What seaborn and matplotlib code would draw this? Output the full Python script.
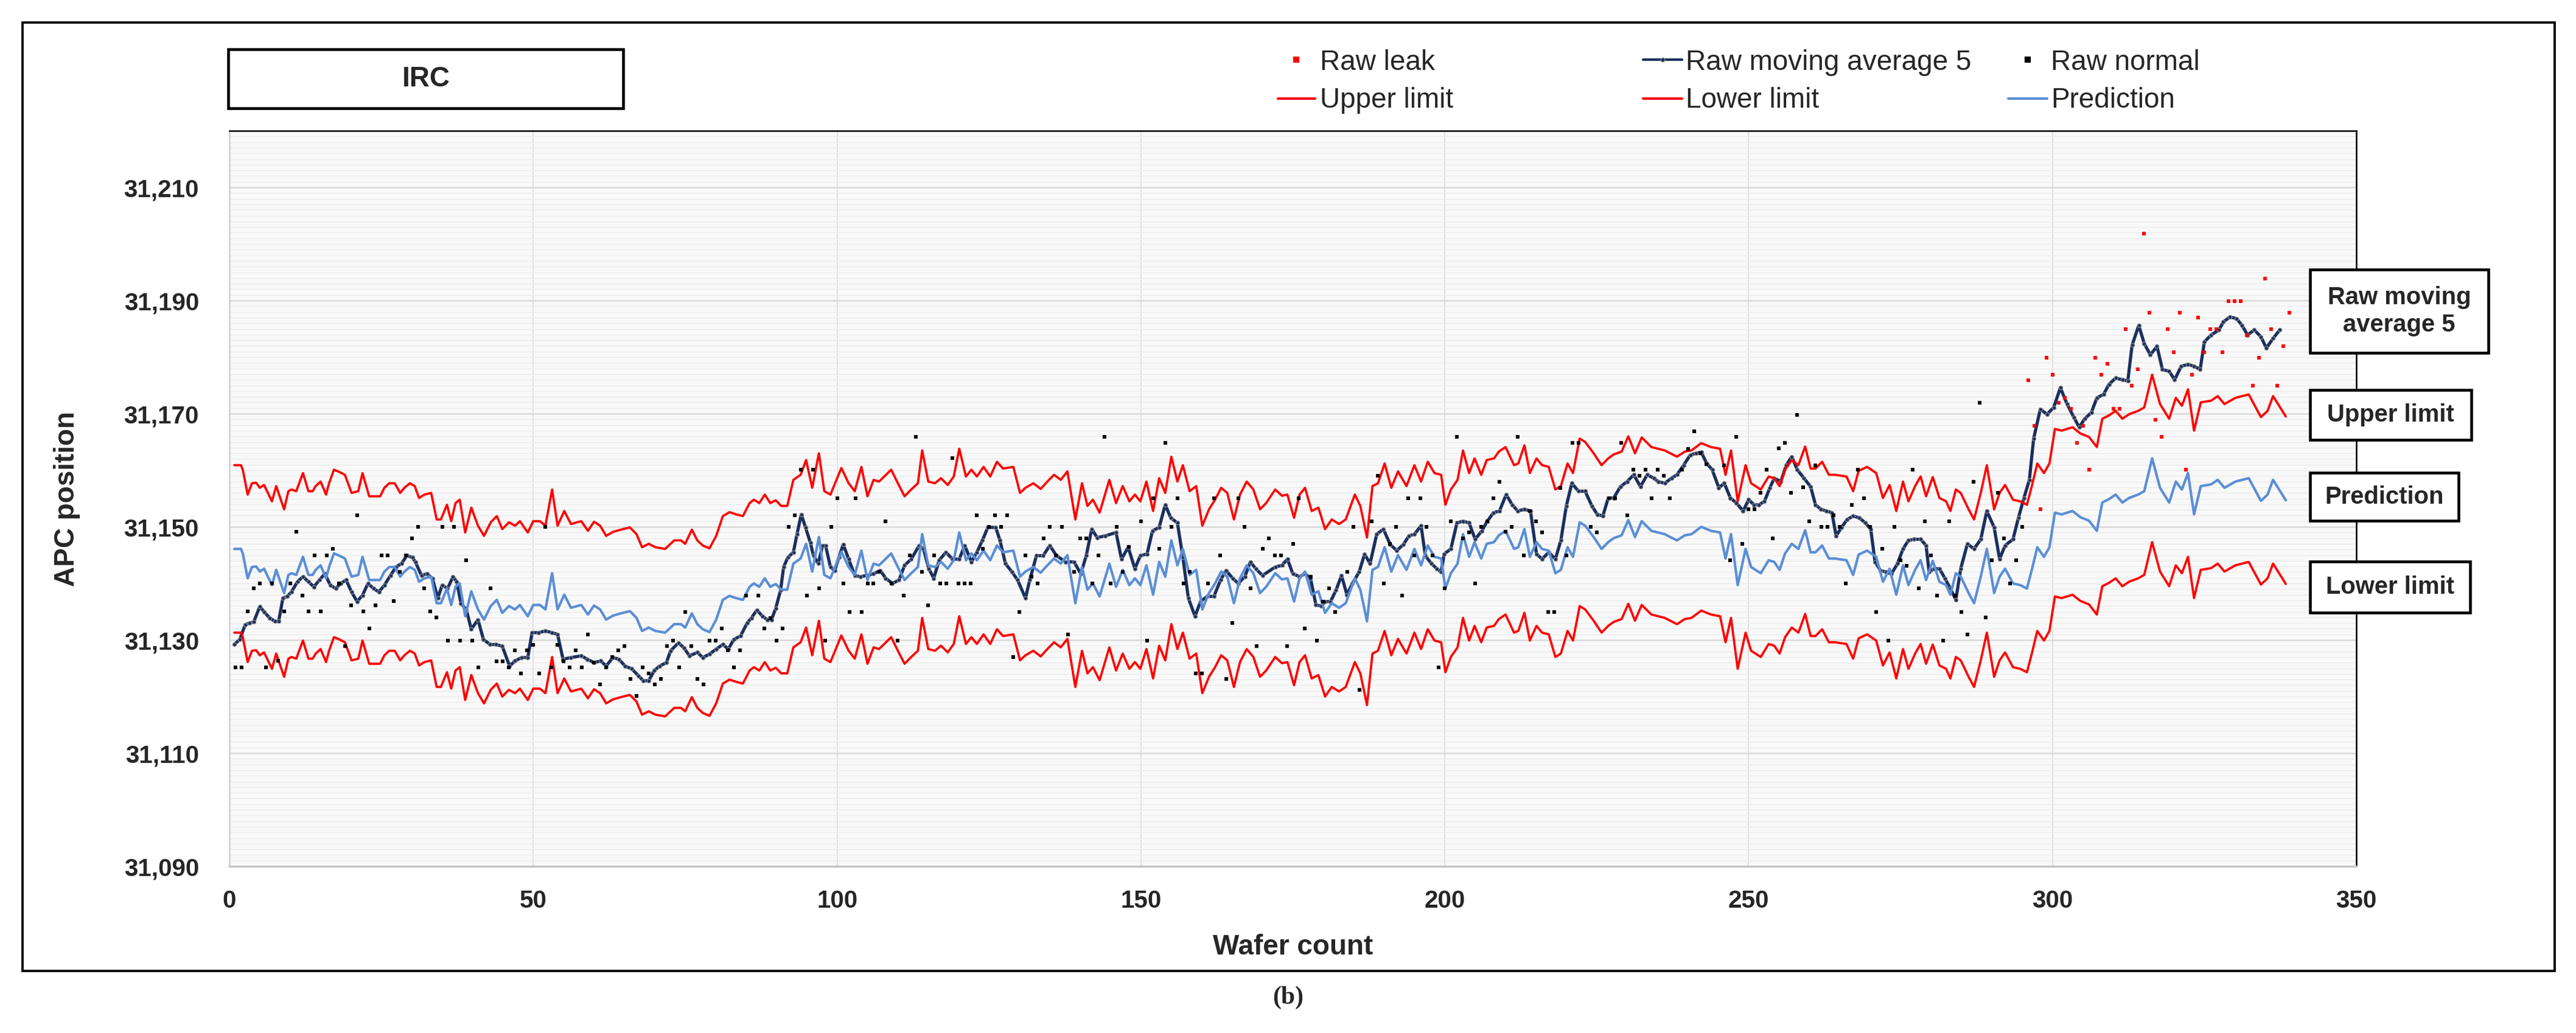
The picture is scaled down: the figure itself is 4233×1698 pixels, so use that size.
import numpy as np
import pandas as pd
import seaborn as sns
import matplotlib.pyplot as plt
from matplotlib.patches import Rectangle
from matplotlib.lines import Line2D
from matplotlib.ticker import FuncFormatter, MultipleLocator

# ---- data ----
# limit / prediction vertices share one x grid (wafer count)
limit_x = [
    0.8, 1.9, 2.2, 3.0, 3.7, 4.4, 5.0, 5.7, 7.0, 7.7, 9.0, 9.7, 10.2, 11.0, 12.1, 13.0, 13.7, 14.2, 15.0, 15.9,
    16.4, 17.2, 17.9, 19.0, 20.1, 21.2, 21.9, 23.0, 23.7, 24.8, 25.5, 26.3, 27.2, 28.1, 28.8, 29.7, 30.5, 31.2, 32.1, 33.2,
    34.1, 34.8, 35.8, 36.5, 37.2, 37.9, 38.8, 39.8, 40.9, 41.9, 43.0, 44.0, 44.9, 46.0, 47.0, 47.8, 49.1, 50.0, 51.1, 52.0,
    53.1, 54.0, 55.1, 56.2,
    57.9, 59.0, 60.0, 61.0, 62.0, 63.1, 64.4, 65.9, 67.0, 67.9, 69.0, 70.1, 71.7, 73.2, 74.3, 75.0, 76.1, 77.0, 77.9, 79.0,
    80.1, 81.2, 82.3, 83.4, 84.5, 85.6, 86.3, 87.2, 88.1, 89.0, 89.9, 90.8, 91.8, 92.8, 94.0, 94.9, 95.9, 97.0, 97.9, 98.9,
    100.7, 101.9, 102.9, 104.0, 105.0, 106.0, 106.9, 108.9, 110.0, 111.1, 112.2, 113.3,
    114.0, 115.0, 116.1, 117.1, 118.2, 119.2, 120.1, 121.2, 122.1, 123.0, 124.1, 125.2, 126.3, 127.3, 129.0, 130.1, 131.0,
    132.3, 133.5, 134.6, 135.7, 136.8, 137.9, 139.2, 140.3, 141.2, 142.1, 143.2, 144.8, 145.9, 147.0, 148.1, 149.0, 149.9,
    150.9, 152.0, 153.0, 154.0, 155.0, 156.0, 156.9, 158.0, 159.1, 160.1, 161.2, 162.2, 163.2, 164.2, 165.3, 166.3, 167.4,
    168.5, 169.6, 170.6,
    172.1, 173.2, 174.1, 175.2, 176.1, 177.0, 178.1, 179.2, 180.3, 181.4, 182.6, 183.7, 185.2, 186.1, 187.2, 188.1, 189.0,
    190.1, 191.2, 192.3, 193.7, 195.0, 196.1, 197.2, 198.3, 199.4, 200.1, 201.0, 202.1, 203.0, 204.0, 204.9, 206.0, 206.9,
    208.1, 208.9, 210.0, 211.4, 212.1, 213.1, 214.0, 215.1, 216.0, 217.1, 218.2, 219.1, 220.2, 221.1, 222.2, 223.1, 224.5,
    225.8, 226.9,
    227.8, 229.1, 230.2, 231.3, 232.4, 234.0, 236.2, 238.2, 239.5, 240.6, 242.2, 243.8, 245.3, 246.2, 247.1, 248.2, 249.5,
    250.4, 252.0, 253.3, 254.2, 255.1, 256.0, 257.1, 258.2, 259.3, 260.2, 261.0, 262.1, 263.2, 264.2, 266.1, 267.2, 268.1,
    269.5, 271.0, 272.1, 273.2, 274.3, 275.4, 276.3, 277.4, 278.3, 279.2, 280.3, 281.4, 282.5, 283.2, 284.1,
    284.9, 286.2, 287.1, 288.2, 289.2, 290.4, 291.3, 292.2, 293.5, 294.7, 295.8, 296.6, 297.5, 298.6, 299.5, 300.4, 301.5,
    303.3, 304.6, 306.0, 307.3, 308.2, 309.3, 310.4, 311.5, 312.6, 314.1, 315.1, 316.4, 317.7, 319.2, 320.3, 321.3, 322.3,
    323.3, 324.4, 326.1, 327.2, 328.3, 330.1, 332.3, 334.3, 335.4, 336.3, 338.4,
]

upper_limit = [
    31160.9, 31160.9, 31160.1, 31155.7, 31157.7, 31157.8, 31156.9, 31157.4, 31154.5, 31157.2, 31153.1, 31156.3, 31156.6,
    31156.3, 31159.5, 31156.3, 31156.3, 31157.2, 31158.0, 31155.7, 31157.7, 31160.1, 31159.8, 31159.2, 31156.0, 31156.3,
    31159.5, 31155.4, 31155.4, 31155.4, 31156.9, 31157.7, 31157.7, 31156.0, 31156.9, 31157.7, 31157.2, 31155.1, 31155.7,
    31156.0, 31151.3, 31151.3, 31153.9, 31151.0, 31154.2, 31154.8, 31149.0, 31153.4, 31150.2, 31148.4, 31150.8, 31151.9,
    31149.6, 31150.8, 31150.2, 31151.0, 31149.0, 31151.0, 31151.0, 31150.2, 31156.6, 31150.2, 31152.8, 31150.5,
    31151.0, 31149.3, 31150.9, 31150.2, 31148.4, 31149.1, 31149.5, 31149.9, 31148.7, 31146.4, 31147.0, 31146.4, 31146.1,
    31147.6, 31147.6, 31147.0, 31149.5, 31147.6, 31146.7, 31146.2, 31148.4, 31151.9, 31152.6, 31152.2, 31151.9, 31154.2,
    31154.8, 31154.2, 31155.7, 31154.2, 31154.7, 31153.7, 31153.7, 31158.3, 31159.2, 31161.8, 31156.9, 31163.0, 31156.3,
    31155.7, 31160.4, 31157.7, 31156.3, 31160.6, 31155.4, 31158.3, 31158.0, 31160.1, 31157.7, 31155.4, 31156.6, 31157.7,
    31163.5, 31158.0, 31157.7, 31158.6, 31157.4, 31158.9, 31163.8, 31158.9, 31160.1, 31158.9, 31160.6, 31158.9, 31161.5,
    31160.3, 31160.6, 31156.0, 31156.9, 31157.7, 31156.7, 31158.0, 31159.2, 31158.3, 31159.8, 31151.3, 31157.7, 31153.7,
    31154.8, 31152.5, 31158.3, 31154.2, 31157.2, 31154.5, 31155.7, 31154.5, 31158.0, 31152.8, 31158.6, 31156.0, 31162.4,
    31158.0, 31160.9, 31156.3, 31157.2, 31150.2, 31153.1, 31154.8, 31156.9, 31156.0, 31151.3, 31155.7, 31158.0, 31156.6,
    31153.1, 31154.2,
    31156.6, 31155.5, 31155.7, 31151.6, 31155.7, 31156.9, 31152.8, 31153.4, 31149.6, 31151.3, 31150.5, 31151.3, 31155.7,
    31153.7, 31148.1, 31157.2, 31157.7, 31161.2, 31156.9, 31159.8, 31157.2, 31160.9, 31158.0, 31161.5, 31159.5, 31159.2,
    31153.9, 31156.6, 31158.3, 31163.5, 31159.5, 31162.1, 31159.2, 31161.8, 31162.1, 31163.3, 31164.1, 31160.9, 31161.2,
    31164.4, 31159.5, 31162.1, 31160.9, 31160.6, 31156.6, 31157.2, 31161.2, 31159.5, 31165.6, 31165.0, 31163.0, 31160.9,
    31162.1,
    31162.8, 31163.3, 31166.0, 31163.0, 31165.8, 31164.1, 31163.5, 31162.4, 31163.3, 31163.5, 31164.8, 31164.1, 31163.8,
    31159.2, 31163.5, 31154.5, 31160.9, 31157.7, 31156.6, 31158.9, 31158.6, 31157.2, 31160.1, 31161.8, 31160.9, 31164.2,
    31160.3, 31160.3, 31161.5, 31159.2, 31159.2, 31158.9, 31156.3, 31159.9, 31160.6, 31159.5, 31155.1, 31157.4, 31152.8,
    31158.0, 31154.5, 31157.2, 31158.9, 31155.4, 31158.8, 31155.1, 31154.5, 31152.8, 31156.6,
    31156.0, 31153.1, 31151.3, 31156.0, 31160.9, 31153.1, 31156.0, 31157.4, 31154.8, 31154.5, 31153.9, 31157.2, 31161.2,
    31159.5, 31161.2, 31167.3, 31167.0, 31167.6, 31166.5, 31165.9, 31164.1, 31169.1, 31169.7, 31170.5, 31169.1, 31169.9,
    31170.5, 31171.1, 31176.9, 31171.7, 31169.1, 31172.8, 31171.4, 31174.3, 31167.0, 31172.0, 31172.3, 31173.1, 31171.7,
    31172.8, 31173.4, 31169.4, 31170.5, 31173.1, 31169.5,
]

prediction = [
    31146.1, 31146.1, 31145.3, 31140.9, 31142.9, 31143.0, 31142.1, 31142.6, 31139.7, 31142.4, 31138.3, 31141.5, 31141.8,
    31141.5, 31144.7, 31141.5, 31141.5, 31142.4, 31143.2, 31140.9, 31142.9, 31145.3, 31145.0, 31144.4, 31141.2, 31141.5,
    31144.7, 31140.6, 31140.6, 31140.6, 31142.1, 31142.9, 31142.9, 31141.2, 31142.1, 31142.9, 31142.4, 31140.3, 31140.9,
    31141.2, 31136.5, 31136.5, 31139.1, 31136.2, 31139.4, 31140.0, 31134.2, 31138.6, 31135.4, 31133.6, 31136.0, 31137.1,
    31134.8, 31136.0, 31135.4, 31136.2, 31134.2, 31136.2, 31136.2, 31135.4, 31141.8, 31135.4, 31138.0, 31135.7,
    31136.2, 31134.5, 31136.1, 31135.4, 31133.6, 31134.3, 31134.7, 31135.1, 31133.9, 31131.6, 31132.2, 31131.6, 31131.3,
    31132.8, 31132.8, 31132.2, 31134.7, 31132.8, 31131.9, 31131.4, 31133.6, 31137.1, 31137.8, 31137.4, 31137.1, 31139.4,
    31140.0, 31139.4, 31140.9, 31139.4, 31139.9, 31138.9, 31138.9, 31143.5, 31144.4, 31147.0, 31142.1, 31148.2, 31141.5,
    31140.9, 31145.6, 31142.9, 31141.5, 31145.8, 31140.6, 31143.5, 31143.2, 31145.3, 31142.9, 31140.6, 31141.8, 31142.9,
    31148.7, 31143.2, 31142.9, 31143.8, 31142.6, 31144.1, 31149.0, 31144.1, 31145.3, 31144.1, 31145.8, 31144.1, 31146.7,
    31145.5, 31145.8, 31141.2, 31142.1, 31142.9, 31141.9, 31143.2, 31144.4, 31143.5, 31145.0, 31136.5, 31142.9, 31138.9,
    31140.0, 31137.7, 31143.5, 31139.4, 31142.4, 31139.7, 31140.9, 31139.7, 31143.2, 31138.0, 31143.8, 31141.2, 31147.6,
    31143.2, 31146.1, 31141.5, 31142.4, 31135.4, 31138.3, 31140.0, 31142.1, 31141.2, 31136.5, 31140.9, 31143.2, 31141.8,
    31138.3, 31139.4,
    31141.8, 31140.7, 31140.9, 31136.8, 31140.9, 31142.1, 31138.0, 31138.6, 31134.8, 31136.5, 31135.7, 31136.5, 31140.9,
    31138.9, 31133.3, 31142.4, 31142.9, 31146.4, 31142.1, 31145.0, 31142.4, 31146.1, 31143.2, 31146.7, 31144.7, 31144.4,
    31139.1, 31141.8, 31143.5, 31148.7, 31144.7, 31147.3, 31144.4, 31147.0, 31147.3, 31148.5, 31149.3, 31146.1, 31146.4,
    31149.6, 31144.7, 31147.3, 31146.1, 31145.8, 31141.8, 31142.4, 31146.4, 31144.7, 31150.8, 31150.2, 31148.2, 31146.1,
    31147.3,
    31148.0, 31148.5, 31151.2, 31148.2, 31151.0, 31149.3, 31148.7, 31147.6, 31148.5, 31148.7, 31150.0, 31149.3, 31149.0,
    31144.4, 31148.7, 31139.7, 31146.1, 31142.9, 31141.8, 31144.1, 31143.8, 31142.4, 31145.3, 31147.0, 31146.1, 31149.4,
    31145.5, 31145.5, 31146.7, 31144.4, 31144.4, 31144.1, 31141.5, 31145.1, 31145.8, 31144.7, 31140.3, 31142.6, 31138.0,
    31143.2, 31139.7, 31142.4, 31144.1, 31140.6, 31144.0, 31140.3, 31139.7, 31138.0, 31141.8,
    31141.2, 31138.3, 31136.5, 31141.2, 31146.1, 31138.3, 31141.2, 31142.6, 31140.0, 31139.7, 31139.1, 31142.4, 31146.4,
    31144.7, 31146.4, 31152.5, 31152.2, 31152.8, 31151.7, 31151.1, 31149.3, 31154.3, 31154.9, 31155.7, 31154.3, 31155.1,
    31155.7, 31156.3, 31162.1, 31156.9, 31154.3, 31158.0, 31156.6, 31159.5, 31152.2, 31157.2, 31157.5, 31158.3, 31156.9,
    31158.0, 31158.6, 31154.6, 31155.7, 31158.3, 31154.7,
]

lower_limit = [
    31131.3, 31131.3, 31130.5, 31126.1, 31128.1, 31128.2, 31127.3, 31127.8, 31124.9, 31127.6, 31123.5, 31126.7, 31127.0,
    31126.7, 31129.9, 31126.7, 31126.7, 31127.6, 31128.4, 31126.1, 31128.1, 31130.5, 31130.2, 31129.6, 31126.4, 31126.7,
    31129.9, 31125.8, 31125.8, 31125.8, 31127.3, 31128.1, 31128.1, 31126.4, 31127.3, 31128.1, 31127.6, 31125.5, 31126.1,
    31126.4, 31121.7, 31121.7, 31124.3, 31121.4, 31124.6, 31125.2, 31119.4, 31123.8, 31120.6, 31118.8, 31121.2, 31122.3,
    31120.0, 31121.2, 31120.6, 31121.4, 31119.4, 31121.4, 31121.4, 31120.6, 31127.0, 31120.6, 31123.2, 31120.9,
    31121.4, 31119.7, 31121.3, 31120.6, 31118.8, 31119.5, 31119.9, 31120.3, 31119.1, 31116.8, 31117.4, 31116.8, 31116.5,
    31118.0, 31118.0, 31117.4, 31119.9, 31118.0, 31117.1, 31116.6, 31118.8, 31122.3, 31123.0, 31122.6, 31122.3, 31124.6,
    31125.2, 31124.6, 31126.1, 31124.6, 31125.1, 31124.1, 31124.1, 31128.7, 31129.6, 31132.2, 31127.3, 31133.4, 31126.7,
    31126.1, 31130.8, 31128.1, 31126.7, 31131.0, 31125.8, 31128.7, 31128.4, 31130.5, 31128.1, 31125.8, 31127.0, 31128.1,
    31133.9, 31128.4, 31128.1, 31129.0, 31127.8, 31129.3, 31134.2, 31129.3, 31130.5, 31129.3, 31131.0, 31129.3, 31131.9,
    31130.7, 31131.0, 31126.4, 31127.3, 31128.1, 31127.1, 31128.4, 31129.6, 31128.7, 31130.2, 31121.7, 31128.1, 31124.1,
    31125.2, 31122.9, 31128.7, 31124.6, 31127.6, 31124.9, 31126.1, 31124.9, 31128.4, 31123.2, 31129.0, 31126.4, 31132.8,
    31128.4, 31131.3, 31126.7, 31127.6, 31120.6, 31123.5, 31125.2, 31127.3, 31126.4, 31121.7, 31126.1, 31128.4, 31127.0,
    31123.5, 31124.6,
    31127.0, 31125.9, 31126.1, 31122.0, 31126.1, 31127.3, 31123.2, 31123.8, 31120.0, 31121.7, 31120.9, 31121.7, 31126.1,
    31124.1, 31118.5, 31127.6, 31128.1, 31131.6, 31127.3, 31130.2, 31127.6, 31131.3, 31128.4, 31131.9, 31129.9, 31129.6,
    31124.3, 31127.0, 31128.7, 31133.9, 31129.9, 31132.5, 31129.6, 31132.2, 31132.5, 31133.7, 31134.5, 31131.3, 31131.6,
    31134.8, 31129.9, 31132.5, 31131.3, 31131.0, 31127.0, 31127.6, 31131.6, 31129.9, 31136.0, 31135.4, 31133.4, 31131.3,
    31132.5,
    31133.2, 31133.7, 31136.4, 31133.4, 31136.2, 31134.5, 31133.9, 31132.8, 31133.7, 31133.9, 31135.2, 31134.5, 31134.2,
    31129.6, 31133.9, 31124.9, 31131.3, 31128.1, 31127.0, 31129.3, 31129.0, 31127.6, 31130.5, 31132.2, 31131.3, 31134.6,
    31130.7, 31130.7, 31131.9, 31129.6, 31129.6, 31129.3, 31126.7, 31130.3, 31131.0, 31129.9, 31125.5, 31127.8, 31123.2,
    31128.4, 31124.9, 31127.6, 31129.3, 31125.8, 31129.2, 31125.5, 31124.9, 31123.2, 31127.0,
    31126.4, 31123.5, 31121.7, 31126.4, 31131.3, 31123.5, 31126.4, 31127.8, 31125.2, 31124.9, 31124.3, 31127.6, 31131.6,
    31129.9, 31131.6, 31137.7, 31137.4, 31138.0, 31136.9, 31136.3, 31134.5, 31139.5, 31140.1, 31140.9, 31139.5, 31140.3,
    31140.9, 31141.5, 31147.3, 31142.1, 31139.5, 31143.2, 31141.8, 31144.7, 31137.4, 31142.4, 31142.7, 31143.5, 31142.1,
    31143.2, 31143.8, 31139.8, 31140.9, 31143.5, 31139.9,
]

ma_x = [
    0.8, 1.7, 2.6, 3.3, 4.0, 5.0, 5.7, 6.6, 7.5, 8.1, 8.8, 9.5, 10.2, 11.2, 12.1, 13.0, 13.9, 14.8, 15.7, 16.6,
    17.5, 18.3, 19.2, 20.1, 21.0, 21.9, 22.8, 23.7, 24.6, 25.5, 26.5, 27.4, 28.3, 29.2, 30.1, 30.6, 31.6, 32.5, 33.4, 34.3,
    35.0, 35.9, 36.8, 37.4, 38.1, 39.0, 39.8, 40.9, 41.8, 42.9, 43.9, 44.9, 46.1, 47.0, 48.1, 49.1, 49.8, 50.9, 52.0, 53.1,
    54.0, 54.9, 56.2,
    57.9, 58.9, 60.0, 61.1, 62.0, 63.1, 64.1, 65.1, 66.2, 67.3, 68.1, 69.0, 69.9, 70.8, 71.9, 72.6, 73.9, 74.8, 75.7, 77.0,
    77.9, 79.0, 80.1, 81.2, 82.1, 83.0, 84.1, 85.2, 85.9, 86.8, 87.7, 88.5, 89.2, 89.9, 90.7, 91.2, 91.9, 92.8, 93.4, 94.1,
    94.8, 95.6, 96.1, 96.9, 97.6, 98.1, 98.9, 99.6, 100.3, 101.0, 101.9, 102.9, 103.8, 104.9, 106.0, 107.1, 108.0, 109.1,
    110.2, 111.1, 112.2, 113.5,
    114.2, 115.1, 115.9, 116.8, 117.9, 119.0, 120.1, 121.0, 122.1, 123.0, 123.9, 124.8, 126.1, 126.8, 127.7, 128.8, 129.7,
    131.0, 131.7, 132.8, 133.9, 135.0, 136.1, 137.6, 139.0, 140.1, 141.0, 141.9, 142.8, 144.1, 145.9, 146.8, 147.9, 149.0,
    149.9, 151.0, 151.9, 153.0, 154.0, 154.9, 156.0, 156.9, 157.8, 158.9, 159.8, 160.9, 162.0, 163.1, 164.0, 165.1, 166.0,
    167.1, 168.0, 168.9, 170.0,
    172.1, 173.2, 174.1, 175.0, 176.1, 177.0, 177.9, 178.8, 179.7, 180.3, 181.2, 182.1, 183.0, 183.9, 184.8, 185.9, 186.8,
    187.7, 188.8, 189.9, 191.0, 192.1, 193.2, 194.1, 195.0, 196.1, 196.8, 197.8, 198.7, 199.4, 199.9, 201.0, 202.0, 203.0,
    204.0, 205.0, 206.1, 207.0, 208.0, 209.0, 210.1, 211.1, 212.0, 213.1, 214.1, 215.1, 216.0, 217.1, 218.2, 219.1, 220.0,
    220.9, 222.0, 223.1, 224.2, 225.1, 226.0, 226.9,
    227.8, 228.9, 230.0, 231.1, 232.2, 233.3, 234.4, 235.1, 236.2, 237.3, 238.2, 239.3, 240.4, 241.3, 242.2, 243.1, 244.0,
    245.1, 246.0, 247.0, 248.0, 249.1, 250.0, 250.9, 251.7, 252.6, 253.5, 254.2, 255.3, 256.2, 257.1, 258.0, 259.1, 260.2,
    261.0, 261.9, 262.8, 263.7, 264.4, 265.3, 266.2, 267.2, 268.2, 269.2, 270.1, 270.8, 271.7, 272.6, 273.5, 274.5, 275.4,
    276.3, 277.2, 278.3, 279.2, 279.7, 280.5, 281.4, 282.3, 283.2, 284.1,
    284.9, 286.0, 287.1, 288.2, 289.2, 290.4, 291.3, 292.2, 293.5, 294.4, 295.3, 296.2, 296.9, 298.0, 299.1, 300.2, 301.3,
    302.4, 303.5, 304.4, 305.3, 306.4, 307.3, 308.4, 309.3, 310.4, 311.5, 312.4, 313.1, 314.2, 315.1, 316.1, 317.2, 318.1,
    319.2, 320.1, 321.2, 322.3, 323.3, 324.3, 325.0, 326.1, 327.4, 328.1, 329.2, 330.3, 331.2, 332.1, 333.2, 334.3, 335.2,
    336.3, 337.4,
]

ma_5 = [
    31129.2, 31130.1, 31132.7, 31133.0, 31133.2, 31135.9, 31135.0, 31133.9, 31133.3, 31133.3, 31137.4, 31137.7, 31138.5,
    31140.3, 31141.2, 31140.3, 31139.4, 31140.6, 31141.7, 31139.7, 31139.1, 31140.0, 31140.6, 31138.5, 31136.8, 31137.9,
    31140.0, 31139.1, 31138.5, 31139.7, 31141.4, 31142.9, 31143.5, 31144.9, 31144.6, 31143.8, 31141.4, 31141.7, 31140.9,
    31137.4, 31139.7, 31139.1, 31141.2, 31140.3, 31136.5, 31135.3, 31131.9, 31133.6, 31130.1, 31129.2, 31129.2, 31128.9,
    31125.4, 31126.3, 31126.9, 31126.9, 31131.3, 31131.3, 31131.6, 31131.3, 31131.0, 31126.6, 31126.9,
    31127.2, 31126.6, 31126.0, 31126.3, 31125.4, 31126.9, 31126.6, 31125.4, 31124.9, 31123.7, 31122.8, 31122.8, 31124.6,
    31125.4, 31126.0, 31128.1, 31129.5, 31128.6, 31127.2, 31127.8, 31126.9, 31127.5, 31128.4, 31129.2, 31128.4, 31130.1,
    31130.7, 31133.0, 31133.9, 31135.3, 31134.2, 31133.6, 31133.6, 31135.6, 31138.8, 31142.9, 31144.6, 31145.5, 31148.7,
    31152.2, 31149.9, 31147.2, 31144.9, 31143.5, 31146.7, 31146.7, 31142.9, 31142.3, 31144.6, 31146.9, 31144.3, 31141.4,
    31141.2, 31141.4, 31141.7, 31142.3, 31140.9, 31140.0, 31140.6, 31143.2, 31144.3, 31146.7,
    31146.1, 31142.6, 31140.9, 31144.1, 31145.5, 31144.3, 31144.3, 31146.7, 31143.8, 31145.5, 31147.6, 31149.9, 31149.9,
    31147.6, 31143.5, 31142.0, 31140.6, 31137.4, 31140.6, 31144.9, 31144.9, 31146.7, 31144.9, 31143.8, 31143.8, 31141.7,
    31144.9, 31149.6, 31148.1, 31148.4, 31149.0, 31144.3, 31146.4, 31142.6, 31144.9, 31145.2, 31149.3, 31149.9, 31153.9,
    31151.6, 31150.7, 31144.6, 31137.4, 31134.2, 31136.8, 31137.7, 31137.7, 31140.6, 31142.3, 31140.9, 31140.0, 31141.2,
    31143.8, 31142.6, 31141.4,
    31142.9, 31143.2, 31144.3, 31141.7, 31141.2, 31141.7, 31140.9, 31136.2, 31136.0, 31136.8, 31136.8, 31138.8, 31141.4,
    31138.0, 31140.0, 31142.0, 31145.2, 31143.5, 31148.7, 31149.6, 31146.9, 31145.8, 31146.9, 31148.4, 31148.7, 31150.2,
    31144.9, 31143.5, 31142.6, 31142.0, 31145.2, 31146.1, 31150.7, 31151.0, 31150.7, 31147.8, 31149.3, 31151.0, 31152.5,
    31152.8, 31155.7, 31153.9, 31152.8, 31153.1, 31152.8, 31145.2, 31144.3, 31145.5, 31144.3, 31147.6, 31153.7, 31157.7,
    31156.3, 31156.3, 31153.7, 31152.2, 31151.9, 31155.1,
    31155.1, 31157.1, 31158.0, 31159.2, 31157.1, 31159.2, 31158.6, 31158.0, 31157.7, 31158.6, 31159.2, 31160.9, 31162.7,
    31163.0, 31163.2, 31161.2, 31160.1, 31156.9, 31157.7, 31155.1, 31154.2, 31152.8, 31154.8, 31153.9, 31153.9, 31154.5,
    31156.9, 31158.6, 31158.0, 31160.9, 31162.4, 31160.1, 31158.6, 31157.1, 31153.9, 31153.1, 31152.8, 31152.5, 31148.4,
    31149.9, 31151.3, 31151.9, 31151.6, 31150.7, 31149.6, 31143.8, 31142.3, 31142.0, 31141.7, 31143.5, 31146.1, 31147.6,
    31147.8, 31147.8, 31146.7, 31142.0, 31142.6, 31142.6, 31140.9, 31139.1, 31137.1,
    31142.6, 31147.0, 31146.1, 31147.8, 31152.8, 31149.9, 31144.3, 31146.7, 31147.8, 31151.6, 31155.1, 31158.3, 31165.6,
    31170.8, 31169.9, 31171.1, 31174.6, 31171.7, 31169.4, 31167.6, 31169.1, 31170.2, 31172.8, 31173.4, 31175.2, 31176.3,
    31176.0, 31175.8, 31182.1, 31185.6, 31182.4, 31180.4, 31181.9, 31177.8, 31177.5, 31176.0, 31178.4, 31178.7, 31178.4,
    31177.8, 31182.7, 31183.9, 31184.8, 31186.2, 31187.1, 31186.8, 31185.6, 31183.9, 31184.8, 31183.6, 31181.6, 31183.3,
    31184.8,
]

normal_x = [
    1, 2, 3, 4, 5, 6, 7, 8, 9, 10, 11, 12, 13, 14, 15, 16, 17, 18, 19, 20, 21, 22, 23, 24, 25, 26, 27, 28, 29, 30,
    31, 32, 33, 34, 35, 36, 37, 38, 39, 40, 41, 43, 44, 45, 46, 47, 48, 49, 50, 51, 52, 53, 54, 55, 56,
    57, 58, 59, 60, 61, 62, 63, 64, 65, 66, 67, 68, 69, 70, 71, 72, 73, 74, 75, 76, 77, 78, 79, 80, 81, 82, 83, 84, 85,
    87, 88, 89, 90, 91, 92, 93, 94, 95, 96, 97, 98, 99, 100, 101, 102, 103, 104, 105, 106, 107, 108, 109, 110, 111, 112,
    113, 114, 115, 116, 117, 118, 119, 120, 121, 122, 123, 124, 125, 126, 127, 128, 129, 130, 131, 132, 133, 134, 135,
    136, 137, 138, 139, 140, 141, 142, 143, 144, 145, 146, 147, 148, 150, 151, 152, 153, 154, 155, 156, 157, 158, 159,
    160, 161, 162, 163, 164, 165, 166, 167, 168, 169, 170, 171, 172, 173, 174, 175, 176, 177, 178, 179, 180, 181, 182,
    184, 185, 186, 188, 189, 190, 191, 192, 193, 194, 195, 196, 197, 198, 199, 200, 201, 202, 203, 204, 205, 206, 207,
    208, 209, 210, 211, 212, 213, 214, 215, 216, 217, 218, 219, 220, 221, 222, 224, 225, 227, 228, 229, 230, 231, 232,
    233, 234, 235, 236, 237, 239, 240, 241, 242, 243, 246, 247, 248, 249, 250, 251, 252, 253, 254, 255, 256, 257, 258,
    259, 260, 261, 262, 263, 264, 265, 266, 267, 268, 269, 270, 271, 272, 273, 274, 275, 276, 277, 278, 279, 280, 281,
    282, 283, 284, 285, 286, 287, 288, 289, 290, 291, 292, 293, 294, 295,
]

raw_normal = [
    31125.2, 31125.2, 31135.1, 31139.1, 31140.0, 31125.2, 31140.0, 31126.3, 31135.1, 31140.0, 31149.1, 31137.9, 31135.1,
    31144.9, 31135.1, 31144.9, 31146.1, 31140.0, 31128.9, 31136.1, 31152.0, 31135.1, 31132.0, 31136.1, 31144.9, 31144.9,
    31136.9, 31142.0, 31144.9, 31148.0, 31150.0, 31139.1, 31135.1, 31134.0, 31150.0, 31129.9, 31150.0, 31129.9, 31144.1,
    31129.9, 31125.2, 31139.1, 31126.2, 31126.2, 31125.2, 31128.2, 31124.1, 31128.2, 31129.1, 31124.1, 31150.0, 31125.2,
    31129.1, 31126.2, 31125.2,
    31128.2, 31125.2, 31131.0, 31126.0, 31122.1, 31125.2, 31127.0, 31128.2, 31128.9, 31123.1, 31120.1, 31125.2, 31124.1,
    31122.1, 31123.1, 31128.9, 31129.9, 31125.2, 31134.9, 31128.9, 31123.1, 31122.1, 31129.9, 31129.9, 31132.0, 31128.2,
    31125.2, 31128.2, 31137.9, 31137.9, 31132.0, 31133.9, 31129.9, 31132.0, 31150.0, 31152.0, 31160.1, 31137.9, 31160.1,
    31139.1, 31129.9, 31150.0, 31155.1, 31140.0, 31134.9, 31155.1, 31134.9, 31140.0, 31140.0, 31142.0, 31151.0, 31140.0,
    31129.9, 31137.9, 31144.9, 31165.9,
    31142.0, 31136.1, 31144.9, 31140.0, 31140.0, 31162.1, 31140.0, 31140.0, 31140.0, 31152.0, 31146.1, 31150.0, 31152.0,
    31150.0, 31152.0, 31127.0, 31134.9, 31144.9, 31141.2, 31140.0, 31148.0, 31150.0, 31144.9, 31150.0, 31131.0, 31142.0,
    31148.0, 31148.0, 31140.0, 31144.9, 31165.9, 31140.0, 31150.0, 31142.0, 31146.4, 31151.0, 31129.9, 31155.1, 31146.1,
    31164.8, 31150.0, 31155.1, 31140.0, 31142.0, 31124.1, 31124.1, 31140.0, 31155.1, 31144.9, 31123.1, 31133.0, 31155.1,
    31150.0, 31139.1, 31128.9, 31146.1,
    31148.0, 31144.9, 31144.9, 31128.9, 31147.0, 31155.1, 31132.0, 31141.2, 31129.9, 31136.8, 31139.1, 31134.9, 31142.0,
    31150.0, 31121.2, 31151.0, 31159.0, 31140.0, 31147.0, 31150.0, 31137.9, 31155.1, 31144.9, 31155.1, 31150.0, 31144.9,
    31125.2, 31139.1, 31151.0, 31165.9, 31148.0, 31149.0, 31140.0, 31150.0, 31151.0, 31155.1, 31158.0, 31149.1, 31150.0,
    31165.9, 31144.9, 31152.8, 31151.0, 31149.0, 31134.9, 31134.9, 31156.9, 31144.9, 31164.8, 31164.8, 31150.0, 31149.0,
    31155.1,
    31155.1, 31164.8, 31152.0, 31160.1, 31159.0, 31160.1, 31155.1, 31160.1, 31159.0, 31155.1, 31160.1, 31163.8, 31166.9,
    31163.0, 31161.1, 31160.9, 31144.1, 31165.9, 31147.0, 31153.1, 31153.1, 31156.0, 31160.1, 31148.0, 31163.9, 31164.8,
    31156.0, 31169.8, 31157.0, 31151.0, 31160.9, 31150.0, 31150.0, 31152.0, 31150.0, 31140.0, 31153.9, 31160.1, 31155.1,
    31150.0, 31134.9, 31146.1, 31129.9, 31150.0, 31144.1, 31143.1, 31160.1, 31139.1, 31151.0, 31144.9, 31137.9, 31129.9,
    31151.0, 31137.9,
    31134.9, 31131.0, 31158.0, 31171.9, 31134.0, 31144.1, 31156.0, 31148.0, 31140.0, 31144.1, 31150.0,
]

leak_x = [
    296, 297, 298, 299, 300, 301, 302, 303, 304, 305, 306, 307, 308, 309, 310, 311, 312, 313, 314, 315, 316, 317,
    318, 319, 320, 321, 322, 323, 324, 325, 326, 327, 328, 329, 330, 331, 332, 333, 334, 335, 336, 337, 338, 339,
]
raw_leak = [
    31175.9, 31167.9, 31153.1, 31179.9, 31176.9, 31171.9, 31172.8, 31170.9, 31164.8, 31167.9, 31160.1, 31179.9, 31176.9,
    31178.8, 31170.9, 31170.9, 31184.9, 31174.9, 31177.9, 31201.8, 31187.8, 31168.9, 31165.9, 31184.9, 31180.9, 31187.8,
    31160.1, 31176.9, 31187.0, 31180.9, 31184.9, 31184.9, 31180.9, 31189.9, 31189.9, 31189.9, 31183.9, 31174.9, 31179.9,
    31193.9, 31184.9, 31174.9, 31181.9, 31187.8,
]

x_ticks = [0, 50, 100, 150, 200, 250, 300, 350]
y_ticks = [31090, 31110, 31130, 31150, 31170, 31190, 31210]

limits = pd.DataFrame({'x': limit_x, 'upper': upper_limit, 'pred': prediction, 'lower': lower_limit})
ma = pd.DataFrame({'x': ma_x, 'y': ma_5})
normal = pd.DataFrame({'x': normal_x, 'y': raw_normal})
leak = pd.DataFrame({'x': leak_x, 'y': raw_leak})

# ---- style ----
RED = '#FF0000'
NAVY = '#1B2F5E'
BLUE = '#5B8ED6'

sns.set_style("white")
plt.rcParams['font.family'] = ['Liberation Sans', 'DejaVu Sans']

W, H = 4233, 1698
fig = plt.figure(figsize=(W / 300, H / 300), dpi=300)


def fx(px):
    return px / W


def fy(py):
    return 1 - py / H


ax = fig.add_axes([fx(377), fy(1424), fx(3872) - fx(377), fy(215) - fy(1424)])
ax.set_facecolor('#f9f9f9')

sns.lineplot(data=ma, x='x', y='y', ax=ax, color=NAVY, lw=1.25, estimator=None,
             marker='o', markersize=1.5, markerfacecolor=NAVY, markeredgecolor='#8a8a8a',
             markeredgewidth=0.3, zorder=3)
sns.lineplot(data=limits, x='x', y='upper', ax=ax, color=RED, lw=0.9, estimator=None, zorder=4)
sns.lineplot(data=limits, x='x', y='lower', ax=ax, color=RED, lw=0.9, estimator=None, zorder=4)
sns.lineplot(data=limits, x='x', y='pred', ax=ax, color=BLUE, lw=1.0, estimator=None, zorder=5)
sns.scatterplot(data=normal, x='x', y='y', ax=ax, color='black', marker='s', s=2.4, linewidth=0, zorder=6)
sns.scatterplot(data=leak, x='x', y='y', ax=ax, color=RED, marker='s', s=2.4, linewidth=0, zorder=6)

ax.set_xlim(0, 350)
ax.set_ylim(31090, 31220)
ax.set_xticks(x_ticks)
ax.set_yticks(y_ticks)
ax.yaxis.set_minor_locator(MultipleLocator(1))
ax.yaxis.set_major_formatter(FuncFormatter(lambda v, p: f'{v:,.0f}'))
ax.tick_params(axis='both', which='both', length=0)
ax.tick_params(axis='y', pad=12)
ax.tick_params(axis='x', pad=9)
for lab in ax.get_xticklabels() + ax.get_yticklabels():
    lab.set_fontweight('bold')
    lab.set_fontsize(9.7)

ax.set_axisbelow(True)
ax.grid(True, which='minor', axis='y', color='#ececec', lw=0.35)
ax.grid(True, which='major', axis='y', color='#d9d9d9', lw=0.6)
ax.grid(True, which='major', axis='x', color='#dadada', lw=0.4)

ax.spines['top'].set_color('black')
ax.spines['top'].set_linewidth(0.6)
ax.spines['right'].set_color('black')
ax.spines['right'].set_linewidth(0.6)
ax.spines['left'].set_color('#d0d0d0')
ax.spines['left'].set_linewidth(0.6)
ax.spines['bottom'].set_color('#c4c4c4')
ax.spines['bottom'].set_linewidth(0.8)

ax.set_xlabel('Wafer count', fontsize=11, fontweight='bold', va='center')
ax.set_ylabel('APC position', fontsize=11, fontweight='bold', va='center')
ax.xaxis.set_label_coords(0.5, (1424 - 1557) / (1424 - 215))
ax.yaxis.set_label_coords((110 - 377) / (3872 - 377), 0.5)

# outer frame
fig.patches.append(Rectangle((fx(37), fy(1596)), fx(4198) - fx(37), fy(37) - fy(1596),
                             transform=fig.transFigure, fill=False, ec='black', lw=0.9))

# IRC title box
fig.patches.append(Rectangle((fx(375), fy(178)), fx(1024) - fx(375), fy(81) - fy(178),
                             transform=fig.transFigure, fill=False, ec='black', lw=1.1))
fig.text(fx(700), fy(130), 'IRC', fontsize=11, fontweight='bold', ha='center', va='center')

# end-of-series label boxes
boxes = [
    ('Raw moving\naverage 5', 3796, 4089, 443, 580),
    ('Upper limit', 3796, 4061, 641, 723),
    ('Prediction', 3796, 4040, 777, 856),
    ('Lower limit', 3796, 4059, 923, 1007),
]
for label, x0, x1, y0, y1 in boxes:
    fig.patches.append(Rectangle((fx(x0), fy(y1)), fx(x1) - fx(x0), fy(y0) - fy(y1),
                                 transform=fig.transFigure, fc='white', ec='black', lw=1.1, zorder=5))
    fig.text(fx((x0 + x1) / 2), fy((y0 + y1) / 2), label, fontsize=9.6, fontweight='bold',
             ha='center', va='center', linespacing=1.25, zorder=6)

# legend (two rows, three columns)
leg_rows = [115, 177]
fig.add_artist(Line2D([fx(2130)], [fy(98)], transform=fig.transFigure, marker='s', ms=1.5,
                      color=RED, ls='none'))
fig.text(fx(2169), fy(leg_rows[0]), 'Raw leak', fontsize=11, va='baseline')
fig.add_artist(Line2D([fx(2100), fx(2161)], [fy(162)] * 2, transform=fig.transFigure, color=RED, lw=1.0))
fig.text(fx(2169), fy(leg_rows[1]), 'Upper limit', fontsize=11, va='baseline')

fig.add_artist(Line2D([fx(2700), fx(2764)], [fy(98)] * 2, transform=fig.transFigure, color=NAVY, lw=1.0))
fig.add_artist(Line2D([fx(2732)], [fy(98)], transform=fig.transFigure, marker='o', ms=1.6,
                      mfc=NAVY, mec='#8a8a8a', mew=0.3, ls='none'))
fig.text(fx(2770), fy(leg_rows[0]), 'Raw moving average 5', fontsize=11, va='baseline')
fig.add_artist(Line2D([fx(2700), fx(2764)], [fy(162)] * 2, transform=fig.transFigure, color=RED, lw=1.0))
fig.text(fx(2770), fy(leg_rows[1]), 'Lower limit', fontsize=11, va='baseline')

fig.add_artist(Line2D([fx(3332)], [fy(98)], transform=fig.transFigure, marker='s', ms=1.5,
                      color='black', ls='none'))
fig.text(fx(3370), fy(leg_rows[0]), 'Raw normal', fontsize=11, va='baseline')
fig.add_artist(Line2D([fx(3300), fx(3364)], [fy(162)] * 2, transform=fig.transFigure, color=BLUE, lw=1.0))
fig.text(fx(3370), fy(leg_rows[1]), 'Prediction', fontsize=11, va='baseline')

fig.text(0.5, fy(1640), '(b)', fontsize=10, fontweight='bold', ha='center', va='center',
         family=['Liberation Serif', 'DejaVu Serif'])

fig.savefig('out.png', dpi=300, facecolor='white')
